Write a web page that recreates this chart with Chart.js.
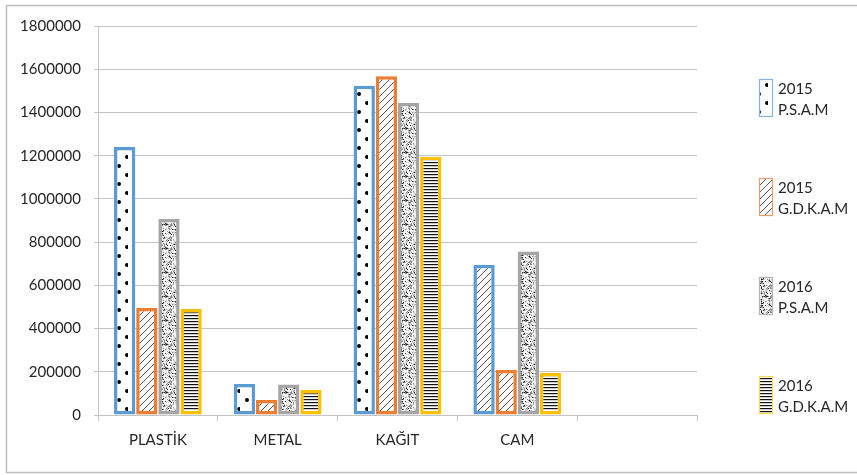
<!DOCTYPE html>
<html>
<head>
<meta charset="utf-8">
<script src="https://cdn.jsdelivr.net/npm/chart.js@4.4.1/dist/chart.umd.min.js"></script>
<style>
  body { margin: 0; background: #fff; }
  #wrap { width: 857px; height: 475px; }
</style>
</head>
<body>
<div id="wrap"><canvas id="myChart" width="857" height="475"></canvas></div>
<script>
// chart data
const categories = ["PLASTİK", "METAL", "KAĞIT", "CAM", ""];
const labels = [["2015", "P.S.A.M"], ["2015", "G.D.K.A.M"], ["2016", "P.S.A.M"], ["2016", "G.D.K.A.M"]];
const psam2015 = [1240000, 143000, 1523000, 694000, null];
const gdkam2015 = [495000, 69000, 1567000, 208000, null];
const psam2016 = [907000, 141000, 1444000, 756000, null];
const gdkam2016 = [490000, 116000, 1195000, 194000, null];
const yTicks = [0, 1800000, 200000]; // min, max, step

const fontName = "Lato, 'Open Sans', sans-serif";
const textColor = "#262626";
const gridColor = "#c4c4c4";

// small tiles used as bar fills (excel style pattern fills)
function makeTile(w, h, draw) {
    const c = document.createElement("canvas");
    c.width = w; c.height = h;
    const g = c.getContext("2d");
    g.fillStyle = "#ffffff";
    g.fillRect(0, 0, w, h);
    draw(g);
    return document.getElementById("myChart").getContext("2d").createPattern(c, "repeat");
}

const dots = makeTile(16, 18, g => {
    g.fillStyle = "#000";
    g.beginPath(); g.arc(7, 4, 2, 0, Math.PI * 2); g.fill();
    g.beginPath(); g.arc(15, 13, 2, 0, Math.PI * 2); g.fill();
});

const hatch = makeTile(7, 7, g => {
    g.strokeStyle = "#555";
    g.lineWidth = 1;
    g.beginPath();
    g.moveTo(0, 7); g.lineTo(7, 0);
    g.moveTo(-1, 1); g.lineTo(1, -1);
    g.moveTo(6, 8); g.lineTo(8, 6);
    g.stroke();
});

const hlines = makeTile(4, 3, g => {
    g.fillStyle = "#111";
    g.fillRect(0, 0, 4, 1.2);
});

// speckle texture, fixed seed so it looks the same every time
const speckle = makeTile(24, 24, g => {
    let seed = 7;
    const rnd = () => { seed = (seed * 16807) % 2147483647; return seed / 2147483647; };
    for (let y = 0; y < 24; y++) {
        for (let x = 0; x < 24; x++) {
            const r = rnd();
            if (r < 0.1) g.fillStyle = "#222";
            else if (r < 0.3) g.fillStyle = "#8a8a8a";
            else if (r < 0.55) g.fillStyle = "#d0d0d0";
            else g.fillStyle = "#f6f6f6";
            g.fillRect(x, y, 1, 1);
        }
    }
});

const fills = [
    [dots, dots, dots, hatch, dots],
    hatch,
    speckle,
    hlines
];
const borders = ["#5b9bd5", "#ed7d31", "#a5a5a5", "#ffc000"];
const legendBorders = ["#7fb4e3", "#f09a66", "#b5b5b5", "#ffd84d"];

// grey frame round the whole chart
const framePlugin = {
    id: "frame",
    beforeDraw(chart) {
        const ctx = chart.ctx;
        ctx.save();
        ctx.fillStyle = "#fff";
        ctx.fillRect(0, 0, chart.width, chart.height);
        ctx.strokeStyle = "#bdbdbd";
        ctx.lineWidth = 1.5;
        ctx.beginPath();
        ctx.moveTo(chart.width + 2, 5.5);
        ctx.lineTo(6.5, 5.5);
        ctx.lineTo(6.5, 472.5);
        ctx.lineTo(chart.width + 2, 472.5);
        ctx.stroke();
        ctx.restore();
    }
};

// legend on the right with two line labels
const legendPlugin = {
    id: "sideLegend",
    afterDraw(chart) {
        const ctx = chart.ctx;
        const area = chart.chartArea;
        const x = area.right + 62;
        const step = 99;
        ctx.save();
        ctx.font = "15px " + fontName;
        chart.data.datasets.forEach((ds, i) => {
            const cy = 98 + i * step;
            const fill = Array.isArray(ds.backgroundColor) ? ds.backgroundColor[0] : ds.backgroundColor;
            ctx.fillStyle = fill;
            ctx.fillRect(x, cy - 19, 14, 38);
            ctx.strokeStyle = legendBorders[i];
            ctx.lineWidth = 1.2;
            ctx.strokeRect(x + 0.5, cy - 18.5, 13, 37);
            ctx.fillStyle = textColor;
            ctx.textBaseline = "middle";
            ctx.fillText(labels[i][0], x + 19, cy - 9);
            ctx.fillText(labels[i][1], x + 19, cy + 12);
        });
        ctx.restore();
    }
};

const ctx = document.getElementById("myChart");
const myChart = new Chart(ctx, {
    type: "bar",
    data: {
        labels: categories,
        datasets: [psam2015, gdkam2015, psam2016, gdkam2016].map((d, i) => ({
            label: labels[i].join(" "),
            data: d,
            backgroundColor: fills[i],
            borderColor: borders[i],
            borderWidth: 3.5,
            borderSkipped: false,
            barPercentage: 0.96,
            categoryPercentage: 0.74
        }))
    },
    options: {
        responsive: false,
        animation: false,
        layout: { padding: { left: 0, top: 26, right: 160, bottom: 0 } },
        plugins: {
            legend: { display: false },
            tooltip: { enabled: false }
        },
        scales: {
            x: {
                grid: { offset: true, drawOnChartArea: false, tickLength: 6, color: gridColor },
                border: { color: gridColor },
                ticks: { font: { family: fontName, size: 15 }, color: textColor, padding: 10 },
                afterFit: s => { s.height = 60; }
            },
            y: {
                min: yTicks[0],
                max: yTicks[1],
                ticks: {
                    stepSize: yTicks[2],
                    font: { family: fontName, size: 15 },
                    color: textColor,
                    padding: 13,
                    callback: v => String(v)
                },
                grid: { color: gridColor, tickLength: 4 },
                border: { color: gridColor },
                afterFit: s => { s.width = 98; }
            }
        }
    },
    plugins: [framePlugin, legendPlugin]
});
</script>
</body>
</html>
